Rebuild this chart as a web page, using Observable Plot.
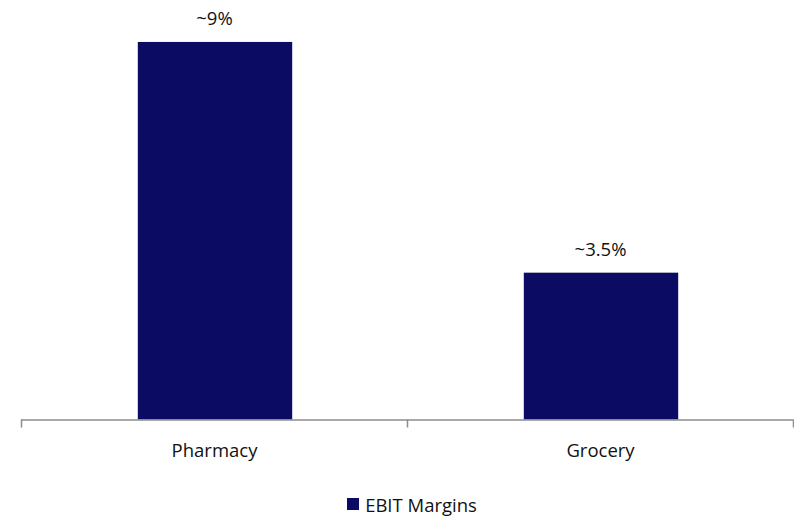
<!DOCTYPE html>
<html>
<head>
<meta charset="utf-8">
<script src="https://cdn.jsdelivr.net/npm/d3@7"></script>
<script src="https://cdn.jsdelivr.net/npm/@observablehq/plot@0.6"></script>
<style>
  html, body { margin: 0; padding: 0; background: #fff; }
  body { width: 794px; height: 516px; overflow: hidden; font-family: "Open Sans", sans-serif; }
  #legend { display: flex; align-items: center; justify-content: center; height: 44px; margin-top: 10px; font-size: 18.5px; color: #111; padding-left: 30px; box-sizing: border-box; }
  #legend .sw { width: 12px; height: 12px; background: #0b0b63; margin-right: 6px; }
</style>
</head>
<body>
<div id="chart"></div>
<div id="legend"><span class="sw"></span><span>EBIT Margins</span></div>
<script>
const categories = ["Pharmacy", "Grocery"];
const values = [9, 3.5];
const valueLabels = ["~9%", "~3.5%"];
const seriesName = "EBIT Margins";

const data = categories.map((c, i) => ({
  category: c,
  value: values[i],
  label: valueLabels[i],
  x1: i + 0.3,
  x2: i + 0.7,
  mid: i + 0.5
}));
const edges = d3.range(categories.length + 1);

const chart = Plot.plot({
  width: 794,
  height: 472,
  marginLeft: 21,
  marginRight: 1,
  marginTop: 0,
  marginBottom: 52.5,
  style: { fontFamily: "Open Sans, sans-serif", fontSize: "18.5px", color: "#111", background: "#fff" },
  x: { type: "linear", domain: [0, categories.length], axis: null },
  y: { type: "linear", domain: [0, 10], axis: null },
  marks: [
    Plot.rectY(data, { x1: "x1", x2: "x2", y: "value", fill: "#0b0b63", dx: 1 }),
    Plot.ruleY([0], { stroke: "#8c8c8c", strokeWidth: 1.5 }),
    Plot.ruleX(edges, { x: d => d, y1: 0, y2: 0, insetBottom: -8, stroke: "#8c8c8c", strokeWidth: 1.5 }),
    Plot.text(data, { x: "mid", y: "value", text: "label", dy: -23, lineAnchor: "middle", fill: "#111" }),
    Plot.text(data, { x: "mid", y: 0, text: "category", dy: 31, lineAnchor: "middle", fill: "#111" })
  ]
});
document.getElementById("chart").appendChild(chart);
</script>
</body>
</html>
